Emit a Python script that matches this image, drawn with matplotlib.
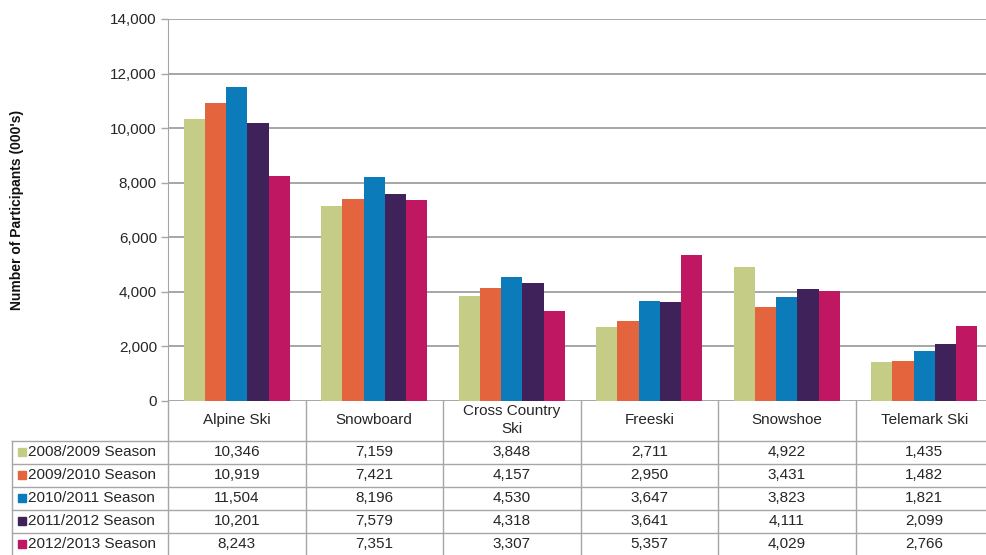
import matplotlib.pyplot as plt
from matplotlib.ticker import FuncFormatter, MultipleLocator

plt.rcParams['font.family'] = ['Liberation Sans', 'DejaVu Sans']

sports = ['Alpine Ski', 'Snowboard', 'Cross Country\nSki', 'Freeski', 'Snowshoe', 'Telemark Ski']
seasons = ['2008/2009 Season', '2009/2010 Season', '2010/2011 Season',
           '2011/2012 Season', '2012/2013 Season']
s2008 = [10346, 7159, 3848, 2711, 4922, 1435]
s2009 = [10919, 7421, 4157, 2950, 3431, 1482]
s2010 = [11504, 8196, 4530, 3647, 3823, 1821]
s2011 = [10201, 7579, 4318, 3641, 4111, 2099]
s2012 = [8243, 7351, 3307, 5357, 4029, 2766]
series = [s2008, s2009, s2010, s2011, s2012]
colors = ['#C5CC85', '#E4653D', '#0B7BB9', '#40225A', '#BF1762']

W, H = 986, 555
grid_c = '#A6A6A6'
txt_c = '#262626'
fs = 11

fig = plt.figure(figsize=(W / 100, H / 100), dpi=100)

# plot area in pixels (runs slightly past the right edge)
left, right, top, base = 168, 993, 19, 401
ax = fig.add_axes([left / W, 1 - base / H, (right - left) / W, (base - top) / H])

bw = 0.154
x = range(len(sports))
for k, (vals, col) in enumerate(zip(series, colors)):
    ax.bar([i + (k - 2) * bw for i in x], vals, width=bw, color=col,
           zorder=3, linewidth=0)

ax.set_xlim(-0.5, len(sports) - 0.5)
ax.set_ylim(0, 14000)
ax.yaxis.set_major_locator(MultipleLocator(2000))
ax.yaxis.set_major_formatter(FuncFormatter(lambda v, _: f'{v:,.0f}'))
ax.set_xticks([])
ax.tick_params(axis='y', length=5, width=1, color=grid_c, pad=3, labelsize=fs,
               labelcolor=txt_c)
ax.grid(axis='y', color=grid_c, linewidth=1.4, zorder=0)
for s in ['top', 'right', 'bottom']:
    ax.spines[s].set_visible(False)
ax.spines['left'].set_color(grid_c)
ax.set_ylabel("Number of Participants (000's)", fontsize=10, fontweight='bold',
              color='#111111')
ax.yaxis.set_label_coords(-(left - 24) / (right - left), 0.5)

# data table under the plot, drawn in pixel coordinates
tab = fig.add_axes([0, 0, 1, 1])
tab.set_xlim(0, W)
tab.set_ylim(H, 0)
tab.axis('off')

cw = (right - left) / len(sports)
row_h = 23
head_bot = 440.5
tab.plot([left, left], [base, H], color=grid_c, lw=1)
for i in range(1, len(sports)):
    xb = left + i * cw
    tab.plot([xb, xb], [base, H], color=grid_c, lw=1)
tab.plot([12, 12], [head_bot, H], color=grid_c, lw=1)
for j in range(len(seasons)):
    yl = head_bot + j * row_h
    tab.plot([12, W], [yl, yl], color=grid_c, lw=1)

for i, name in enumerate(sports):
    xc = left + (i + 0.5) * cw
    tab.text(xc, 420, name, ha='center', va='center', fontsize=fs,
             linespacing=1.3, color=txt_c)
    for j, vals in enumerate(series):
        tab.text(xc, head_bot + (j + 0.5) * row_h, f'{vals[i]:,}', ha='center',
                 va='center', fontsize=fs, color=txt_c)

for j, (name, col) in enumerate(zip(seasons, colors)):
    yc = head_bot + (j + 0.5) * row_h
    tab.plot(22, yc, marker='s', markersize=6, color=col, linestyle='none')
    tab.text(28, yc, name, ha='left', va='center', fontsize=fs, color=txt_c)

fig.savefig('out.png', dpi=100)
